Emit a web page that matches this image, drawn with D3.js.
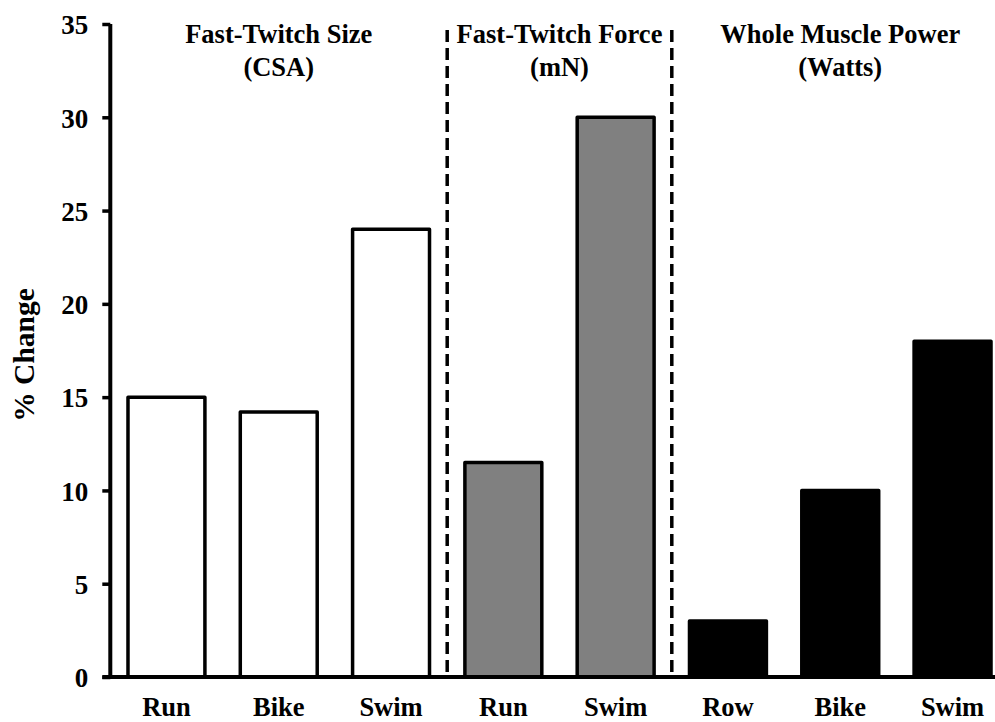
<!DOCTYPE html>
<html><head><meta charset="utf-8">
<script src="https://cdn.jsdelivr.net/npm/d3@7"></script>
<style>
body{margin:0;background:#fff;}
svg text{font-family:'Liberation Serif','Times New Roman',Times,'DejaVu Serif',serif !important;font-weight:bold;fill:#000;}
</style></head>
<body><svg id="c" width="995" height="722"></svg>
<script>
const categories = ["Run","Bike","Swim","Run","Swim","Row","Bike","Swim"];
const values = [15, 14.2, 24, 11.5, 30, 3, 10, 18];
const groupOf = [0,0,0,1,1,2,2,2];
const groupTitles = [["Fast-Twitch Size","(CSA)"],["Fast-Twitch Force","(mN)"],["Whole Muscle Power","(Watts)"]];
const groupFills = ["#ffffff","#808080","#000000"];
const yTicks = [0,5,10,15,20,25,30,35];

const svg = d3.select("#c");
const x0 = 110.3, x1 = 1008.7, yTop = 24, yBase = 677;
const x = d3.scaleBand().domain(d3.range(categories.length)).range([x0,x1]).paddingInner(0.315).paddingOuter(0.1575);
const y = d3.scaleLinear().domain([0,35]).range([yBase,yTop]);
const step = x.step();

// bars
svg.append("g").selectAll("rect").data(values).join("rect")
  .attr("x",(d,i)=>x(i)).attr("width",x.bandwidth())
  .attr("y",d=>y(d)).attr("height",d=>yBase-y(d))
  .attr("fill",(d,i)=>groupFills[groupOf[i]])
  .attr("stroke","#000").attr("stroke-width",3.5).attr("stroke-linejoin","round");

// group separators
const boundaries = [3,5].map(k=>x0 + k*step);
svg.append("g").selectAll("line").data(boundaries).join("line")
  .attr("x1",d=>d).attr("x2",d=>d).attr("y1",30).attr("y2",yBase)
  .attr("stroke","#000").attr("stroke-width",3.5).attr("stroke-dasharray","12,6");

// y axis
const ya = svg.append("g").attr("transform",`translate(${x0},0)`)
  .call(d3.axisLeft(y).tickValues(yTicks).tickSize(8).tickPadding(14).tickFormat(d3.format("d")));
ya.attr("font-family",null).attr("font-size",null);
ya.select(".domain").attr("stroke-width",4).attr("d",`M0,${yTop}V${yBase}`);
ya.selectAll(".tick line").attr("stroke-width",3.5);
ya.selectAll(".tick text").attr("font-size",27).attr("dy","0.36em");

// baseline
svg.append("line").attr("x1",x0-8).attr("x2",995).attr("y1",yBase).attr("y2",yBase)
  .attr("stroke","#000").attr("stroke-width",4);

// category labels
svg.append("g").selectAll("text").data(categories).join("text")
  .attr("x",(d,i)=>x(i)+x.bandwidth()/2).attr("y",716)
  .attr("text-anchor","middle").attr("font-size",26.5).text(d=>d);

// group titles
const gCenters = [[0,3],[3,5],[5,8]].map(([a,b])=>x0 + (a+b)/2*step);
groupTitles.forEach((t,gi)=>{
  t.forEach((line,li)=>{
    svg.append("text").attr("x",gCenters[gi]).attr("y",43+li*33)
      .attr("text-anchor","middle").attr("font-size",26.5).text(line);
  });
});

// y axis title
svg.append("text").attr("transform","translate(34,355) rotate(-90)")
  .attr("text-anchor","middle").attr("font-size",29.5).text("% Change");
</script></body></html>
